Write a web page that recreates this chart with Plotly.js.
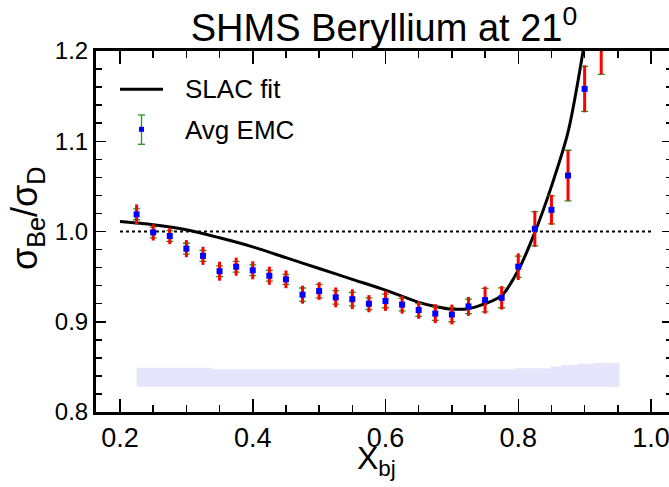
<!DOCTYPE html>
<html><head><meta charset="utf-8">
<script src="https://cdn.plot.ly/plotly-3.0.1.min.js"></script>
<style>html,body{margin:0;padding:0;overflow:hidden;background:#fff}#chart{width:674px;height:487px}</style>
</head><body><div id="chart"></div>
<script>
// ---- data ----
const xbj = [0.225,0.25,0.275,0.3,0.325,0.35,0.375,0.4,0.425,0.45,0.475,0.5,0.525,0.55,0.575,0.6,0.625,0.65,0.675,0.7,0.725,0.75,0.775,0.8,0.825,0.85,0.875,0.9,0.925];
const ratio = [1.019,0.999,0.995,0.981,0.973,0.956,0.961,0.957,0.951,0.947,0.930,0.934,0.927,0.925,0.920,0.923,0.919,0.913,0.909,0.908,0.917,0.924,0.9265,0.961,1.003,1.024,1.062,1.158,1.214];
const errTotal = [0.011,0.009,0.009,0.0095,0.010,0.0105,0.010,0.010,0.010,0.0098,0.010,0.0098,0.011,0.011,0.0095,0.011,0.010,0.0098,0.0105,0.011,0.0105,0.015,0.013,0.0148,0.020,0.0166,0.028,0.026,0.040];
const errStat = [0.006,0.006,0.006,0.006,0.006,0.006,0.006,0.006,0.006,0.0055,0.0074,0.0075,0.0075,0.0075,0.0065,0.0075,0.007,0.007,0.0075,0.008,0.008,0.013,0.011,0.0118,0.019,0.0155,0.028,0.025,0.040];

const fitX = [0.2,0.25,0.3,0.35,0.4,0.45,0.5,0.55,0.6,0.65,0.675,0.7,0.725,0.75,0.775,0.8,0.825,0.85,0.875,0.9];
const fitY = [1.011,1.0075,1.002,0.993,0.983,0.971,0.959,0.947,0.935,0.9215,0.917,0.914,0.9145,0.920,0.929,0.957,0.999,1.050,1.110,1.210];

const refX = [0.2, 1.0];
const refY = [1.0, 1.0];

const bandEdges = [0.225,0.3375,0.795,0.849,0.865,0.89,0.914,0.9525];
const bandTop = [0.849,0.8473,0.8485,0.8505,0.852,0.8535,0.8545,0.8545];
const bandBottom = 0.828;

const xTickVals = [0.2,0.4,0.6,0.8,1.0];
const yTickVals = [0.8,0.9,1.0,1.1,1.2];

// ---- traces ----
const FONT = '"Liberation Sans", Arial, Helvetica, sans-serif';
const GREEN = '#1a9a1a';
const traces = [
  {x:[bandEdges[0], bandEdges[bandEdges.length-1]], y:[bandBottom, bandBottom], mode:'lines',
   line:{width:0, color:'rgba(0,0,0,0)'}, showlegend:false, hoverinfo:'skip'},
  {x:bandEdges, y:bandTop, mode:'lines', line:{width:0, shape:'hv', color:'rgba(0,0,0,0)'},
   fill:'tonexty', fillcolor:'rgb(229,229,251)', showlegend:false, hoverinfo:'skip'},
  {x:refX, y:refY, mode:'lines', line:{color:'black', width:2.2, dash:'dot'}, showlegend:false},
  {x:fitX, y:fitY, mode:'lines', line:{color:'black', width:3, shape:'spline', smoothing:0.8}, name:'SLAC fit', showlegend:false},
  // stat errors (green, with caps) underneath
  {x:xbj, y:ratio, mode:'markers', marker:{size:2, color:GREEN, opacity:0},
   error_y:{type:'data', array:errStat, visible:true, color:GREEN, thickness:1.3, width:3.5}, showlegend:false},
  // total errors (red, no caps) with the blue points on top
  {x:xbj, y:ratio, mode:'markers', marker:{symbol:'square', size:6, color:'#0000ff'},
   error_y:{type:'data', array:errTotal, visible:true, color:'#ff0000', thickness:3, width:0}, name:'Avg EMC', showlegend:false}
];

// legend drawn in paper coords (plot area: x 96..672, y 51..412)
const L = 96, T = 51, W = 576, H = 361;
const px = v => (v - L) / W;
const py = v => (T + H - v) / H;

const layout = {
  width: 674, height: 487,
  margin: {l: L, r: 674 - L - W, t: T, b: 487 - T - H, pad: 0},
  paper_bgcolor: 'white', plot_bgcolor: 'white',
  font: {family: FONT, color: 'black'},
  title: {text: 'SHMS Beryllium at 21<sup>0</sup>', font: {size: 38, family: FONT, color: 'black'},
          x: 0.5, xref: 'paper', y: 1 - 28/487, yref: 'container', yanchor: 'middle'},
  showlegend: false,
  xaxis: {
    range: [0.2 - 24/663.75, 0.2 + 552/663.75],
    tickvals: xTickVals, ticktext: xTickVals.map(v => v.toFixed(1)),
    ticks: 'inside', ticklen: 13, tickwidth: 1.5, tickcolor: 'black',
    minor: {dtick: 0.05, tick0: 0.2, ticks: 'inside', ticklen: 7, tickwidth: 1.5, tickcolor: 'black', showgrid: false},
    showline: true, linewidth: 3, linecolor: 'black', mirror: 'ticks',
    showgrid: false, zeroline: false,
    tickfont: {size: 27, family: FONT, color: 'black'}
  },
  yaxis: {
    range: [0.8, 1.2],
    tickvals: yTickVals, ticktext: yTickVals.map(v => v.toFixed(1)),
    ticks: 'inside', ticklen: 10, tickwidth: 1.5, tickcolor: 'black',
    minor: {dtick: 0.02, tick0: 0.8, ticks: 'inside', ticklen: 6, tickwidth: 1.5, tickcolor: 'black', showgrid: false},
    showline: true, linewidth: 3, linecolor: 'black', mirror: 'ticks',
    showgrid: false, zeroline: false,
    tickfont: {size: 24, family: FONT, color: 'black'}
  },
  shapes: [
    {type:'line', xref:'paper', yref:'paper', x0:px(120), x1:px(163), y0:py(89.3), y1:py(89.3), line:{color:'black', width:3}},
    {type:'line', xref:'paper', yref:'paper', x0:px(141.5), x1:px(141.5), y0:py(115), y1:py(144.3), line:{color:GREEN, width:1.3}},
    {type:'line', xref:'paper', yref:'paper', x0:px(138), x1:px(145), y0:py(115), y1:py(115), line:{color:GREEN, width:1.3}},
    {type:'line', xref:'paper', yref:'paper', x0:px(138), x1:px(145), y0:py(144.3), y1:py(144.3), line:{color:GREEN, width:1.3}},
    {type:'rect', xref:'paper', yref:'paper', x0:px(139), x1:px(144), y0:py(126.8), y1:py(131.8), line:{width:0}, fillcolor:'#0000ff'}
  ],
  annotations: [
    {text:'SLAC fit', xref:'paper', yref:'paper', x:px(183), y:py(89.3), xanchor:'left', yanchor:'middle', showarrow:false, font:{size:26, family:FONT, color:'black'}},
    {text:'Avg EMC', xref:'paper', yref:'paper', x:px(183), y:py(129.5), xanchor:'left', yanchor:'middle', showarrow:false, font:{size:26, family:FONT, color:'black'}},
    {text:'σ<sub>Be</sub>/σ<sub>D</sub>', xref:'paper', yref:'paper', x:px(27), y:py(219), xanchor:'center', yanchor:'middle',
     textangle:-90, showarrow:false, font:{size:36, family:FONT, color:'black'}},
    {text:'X<sub>bj</sub>', xref:'paper', yref:'paper', x:px(376), y:py(438), xanchor:'center', yanchor:'top',
     showarrow:false, font:{size:32, family:FONT, color:'black'}}
  ]
};

Plotly.newPlot('chart', traces, layout, {displayModeBar: false, staticPlot: true});
</script>
</body></html>
